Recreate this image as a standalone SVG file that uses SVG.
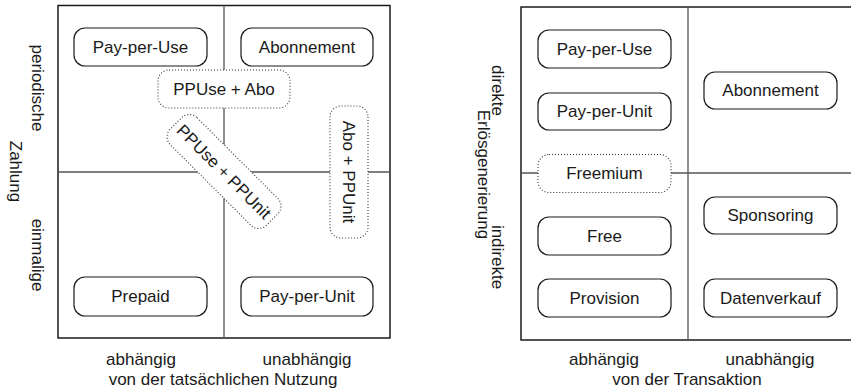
<svg xmlns="http://www.w3.org/2000/svg" width="851" height="392" viewBox="0 0 851 392">
  <style>
    text { font-family: "Liberation Sans", Arial, sans-serif; font-size: 17px; fill: #1a1a1a; text-anchor: middle; }
    .frame { fill: none; stroke: #1a1a1a; stroke-width: 1.5; }
    .div { stroke: #555; stroke-width: 1.3; fill: none; }
    .box { fill: #fff; stroke: #1a1a1a; stroke-width: 1.2; }
    .dot { fill: #fff; stroke: #333; stroke-width: 1.1; stroke-dasharray: 1 2; }
  </style>

  <!-- Left matrix: payment frequency vs. usage dependency -->
  <g id="left-grid">
    <rect class="frame" x="58" y="5.5" width="332" height="332.5"/>
    <line class="div" x1="224" y1="5.5" x2="224" y2="338"/>
    <line class="div" x1="58" y1="172" x2="390" y2="172"/>
  </g>

  <g id="l-payperuse">
    <rect class="box" x="74" y="28" width="133" height="38" rx="11"/>
    <text x="140.5" y="52.5">Pay-per-Use</text>
  </g>
  <g id="l-abonnement">
    <rect class="box" x="241" y="28" width="132" height="38" rx="11"/>
    <text x="307" y="52.5">Abonnement</text>
  </g>
  <g id="l-ppuse-abo">
    <rect class="dot" x="158" y="70" width="132" height="38" rx="11"/>
    <text x="224" y="94.5">PPUse + Abo</text>
  </g>
  <g id="l-ppuse-ppunit" transform="translate(224 171.5) rotate(45)">
    <rect class="dot" x="-68" y="-19" width="136" height="38" rx="11"/>
    <text x="0" y="6">PPUse + PPUnit</text>
  </g>
  <g id="l-abo-ppunit" transform="translate(349 172) rotate(90)">
    <rect class="dot" x="-66" y="-19" width="132" height="38" rx="11"/>
    <text x="0" y="6">Abo + PPUnit</text>
  </g>
  <g id="l-prepaid">
    <rect class="box" x="74" y="277" width="133" height="39" rx="11"/>
    <text x="140.5" y="302">Prepaid</text>
  </g>
  <g id="l-payperunit">
    <rect class="box" x="241" y="277" width="132" height="39" rx="11"/>
    <text x="307" y="302">Pay-per-Unit</text>
  </g>

  <g id="left-axis-labels">
    <text transform="translate(31.5 88) rotate(90)">periodische</text>
    <text transform="translate(10 171.5) rotate(90)">Zahlung</text>
    <text transform="translate(31.5 255) rotate(90)">einmalige</text>
    <text x="141" y="365">abhängig</text>
    <text x="307" y="365">unabhängig</text>
    <text x="223" y="385">von der tatsächlichen Nutzung</text>
  </g>

  <!-- Right matrix: revenue generation vs. transaction dependency -->
  <g id="right-grid">
    <rect class="frame" x="521" y="7" width="333" height="333"/>
    <line class="div" x1="688" y1="7" x2="688" y2="340"/>
    <line class="div" x1="521" y1="173" x2="851" y2="173"/>
  </g>

  <g id="r-payperuse">
    <rect class="box" x="538" y="30" width="133" height="38" rx="11"/>
    <text x="604.5" y="54.5">Pay-per-Use</text>
  </g>
  <g id="r-payperunit">
    <rect class="box" x="538" y="93" width="133" height="37" rx="11"/>
    <text x="604.5" y="117">Pay-per-Unit</text>
  </g>
  <g id="r-freemium">
    <rect class="dot" x="538" y="154.5" width="133" height="38" rx="11"/>
    <text x="604.5" y="179">Freemium</text>
  </g>
  <g id="r-free">
    <rect class="box" x="538" y="217" width="133" height="38" rx="11"/>
    <text x="604.5" y="241.5">Free</text>
  </g>
  <g id="r-provision">
    <rect class="box" x="538" y="279" width="133" height="38" rx="11"/>
    <text x="604.5" y="303.5">Provision</text>
  </g>
  <g id="r-abonnement">
    <rect class="box" x="704" y="72" width="133" height="37" rx="11"/>
    <text x="770.5" y="96">Abonnement</text>
  </g>
  <g id="r-sponsoring">
    <rect class="box" x="704" y="197" width="133" height="37" rx="11"/>
    <text x="770.5" y="221">Sponsoring</text>
  </g>
  <g id="r-datenverkauf">
    <rect class="box" x="704" y="279" width="133" height="38" rx="11"/>
    <text x="770.5" y="303.5">Datenverkauf</text>
  </g>

  <g id="right-axis-labels">
    <text transform="translate(491.5 90.5) rotate(90)">direkte</text>
    <text transform="translate(478 174.5) rotate(90)">Erlösgenerierung</text>
    <text transform="translate(492 257) rotate(90)">indirekte</text>
    <text x="604" y="365">abhängig</text>
    <text x="770" y="365">unabhängig</text>
    <text x="687" y="385">von der Transaktion</text>
  </g>
</svg>
